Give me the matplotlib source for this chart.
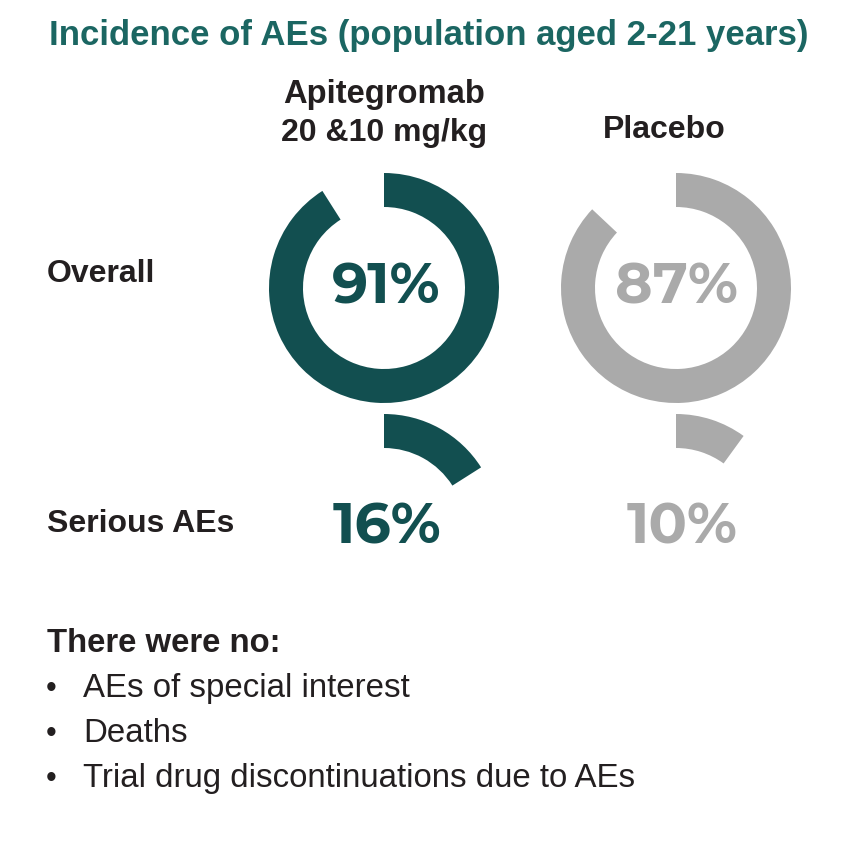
import matplotlib.pyplot as plt
from matplotlib.patches import Wedge

# data
groups = ["Apitegromab\n20 &10 mg/kg", "Placebo"]
overall = [91, 87]
serious = [16, 10]
rows = ["Overall", "Serious AEs"]
none_items = ["AEs of special interest", "Deaths", "Trial drug discontinuations due to AEs"]

colors = ["#124f50", "#aaaaaa"]
dark = "#231f20"
title_col = "#1b6662"
sans = "Liberation Sans"
num_font = "Montserrat Alternates"

W, H = 856, 868
fig = plt.figure(figsize=(W / 100, H / 100), dpi=100)
ax = fig.add_axes([0, 0, 1, 1])
ax.set_xlim(0, W)
ax.set_ylim(0, H)
ax.set_aspect("equal")
ax.axis("off")


def Y(py):
    return H - py


col_x = [384, 676]
R, ring_w = 115, 34

ax.text(429, Y(45), "Incidence of AEs (population aged 2-21 years)", ha="center",
        va="baseline", fontsize=25, fontweight="bold", color=title_col, family=sans)

head1, head2 = groups[0].split("\n")
ax.text(384.5, Y(103), head1, ha="center", va="baseline", fontsize=23.6,
        fontweight="bold", color=dark, family=sans)
ax.text(384.5, Y(141), head2, ha="center", va="baseline", fontsize=23,
        fontweight="bold", color=dark, family=sans)
ax.text(664, Y(138.5), groups[1], ha="center", va="baseline", fontsize=23,
        fontweight="bold", color=dark, family=sans)

ax.text(47, Y(281.5), rows[0], ha="left", va="baseline", fontsize=23,
        fontweight="bold", color=dark, family=sans)
ax.text(47, Y(532.5), rows[1], ha="left", va="baseline", fontsize=23,
        fontweight="bold", color=dark, family=sans)

num_dx = [(2.5, 2.5), (0.5, 6.5)]
for i, x in enumerate(col_x):
    # overall ring, clockwise from 12 o'clock
    ax.add_patch(Wedge((x, Y(288)), R, 90 - 3.6 * overall[i], 90, width=ring_w,
                       color=colors[i], lw=0))
    ax.text(x + num_dx[i][0], Y(304), f"{overall[i]}%", ha="center", va="baseline",
            fontsize=41, fontweight="bold", color=colors[i], family=num_font)
    # serious AE arc
    ax.add_patch(Wedge((x, Y(529)), R, 90 - 3.6 * serious[i], 90, width=ring_w,
                       color=colors[i], lw=0))
    ax.text(x + num_dx[i][1], Y(543), f"{serious[i]}%", ha="center", va="baseline",
            fontsize=41, fontweight="bold", color=colors[i], family=num_font)

ax.text(47, Y(651.5), "There were no:", ha="left", va="baseline", fontsize=23.7,
        fontweight="bold", color=dark, family=sans)
for k, item in enumerate(none_items):
    yy = Y(697 + 44.9 * k)
    ax.text(46, yy, "•", ha="left", va="baseline", fontsize=22, color=dark, family=sans)
    ax.text(83, yy, item, ha="left", va="baseline", fontsize=23.8, color=dark, family=sans)

fig.savefig("out.png", dpi=100)
